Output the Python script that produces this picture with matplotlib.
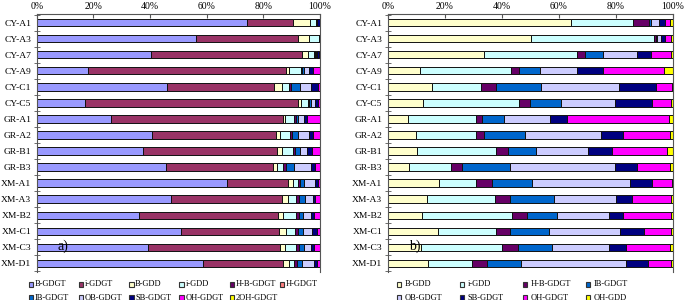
import numpy as np
import matplotlib
matplotlib.use('Agg')
import matplotlib.pyplot as plt
from matplotlib.patches import Rectangle

plt.rcParams['font.family'] = ['Liberation Serif', 'DejaVu Serif']

samples = ['CY-A1', 'CY-A3', 'CY-A7', 'CY-A9', 'CY-C1', 'CY-C5', 'GR-A1', 'GR-A2',
           'GR-B1', 'GR-B3', 'XM-A1', 'XM-A3', 'XM-B2', 'XM-C1', 'XM-C3', 'XM-D1']

# panel a) - all lipids (%)
names_a = ['B-GDGT', 'i-GDGT', 'B-GDD', 'i-GDD', 'H-B-GDGT', 'H-GDGT',
           'IB-GDGT', 'OB-GDGT', 'SB-GDGT', 'OH-GDGT', '2OH-GDGT']
b_gdgt_a = [74.2, 56.2, 40.6, 18.2, 46.1, 17.2, 26.2, 40.8, 37.4, 45.6, 67.1, 47.2, 36.2, 50.9, 39.3, 58.6]
i_gdgt_a = [16.2, 36.2, 53.5, 69.7, 37.8, 75.2, 60.5, 43.7, 47.3, 37.8, 21.5, 39.4, 48.9, 34.7, 46.6, 28.6]
b_gdd_a = [6.1, 3.7, 2.0, 1.3, 2.6, 0.9, 0.9, 1.5, 1.8, 1.3, 2.0, 1.9, 1.8, 2.4, 1.8, 1.8]
i_gdd_a = [2.1, 3.4, 1.9, 4.1, 2.5, 2.6, 3.3, 3.3, 3.9, 2.4, 1.5, 3.1, 4.7, 3.2, 3.9, 1.9]
hb_gdgt_a = [0.5, 0.2, 0.5, 0.5, 0.8, 0.3, 0.4, 0.8, 0.9, 0.9, 0.8, 1.0, 1.0, 0.9, 1.0, 0.9]
h_gdgt_a = [0.0] * 16
ib_gdgt_a = [0.0, 0.0, 0.3, 0.7, 3.0, 0.5, 1.0, 2.0, 1.6, 2.8, 1.5, 1.9, 1.5, 1.8, 1.8, 1.8]
ob_gdgt_a = [0.0, 0.0, 0.3, 1.7, 4.1, 1.4, 2.0, 4.1, 2.6, 5.9, 3.8, 2.9, 2.6, 3.4, 2.5, 4.5]
sb_gdgt_a = [0.9, 0.3, 1.0, 1.2, 2.4, 1.2, 0.9, 1.4, 1.5, 1.5, 1.2, 0.9, 1.1, 1.5, 1.1, 1.1]
oh_gdgt_a = [0.0, 0.0, 0.2, 2.6, 0.7, 0.7, 4.7, 2.4, 3.0, 1.8, 0.6, 1.6, 2.2, 1.2, 2.1, 0.9]
oh2_gdgt_a = [0.0] * 16

# panel b) - minor lipids (%)
names_b = ['B-GDD', 'i-GDD', 'H-B-GDGT', 'IB-GDGT', 'OB-GDGT', 'SB-GDGT', 'OH-GDGT', 'OH-GDD']
b_gdd_b = [64.1, 50.2, 33.8, 11.4, 15.4, 12.3, 7.0, 9.8, 10.4, 7.6, 17.9, 13.7, 12.1, 17.5, 11.8, 14.0]
i_gdd_b = [21.9, 43.1, 32.5, 31.6, 17.4, 33.8, 23.9, 21.1, 27.4, 14.6, 13.2, 23.9, 31.5, 20.4, 28.4, 15.6]
hb_gdgt_b = [5.6, 1.0, 2.8, 3.0, 5.3, 4.0, 2.0, 3.0, 4.4, 4.0, 5.4, 5.3, 5.4, 4.9, 5.4, 5.4]
ib_gdgt_b = [0.8, 0.2, 6.4, 7.5, 15.9, 10.6, 7.9, 14.4, 9.7, 16.7, 14.0, 15.6, 10.2, 13.7, 12.1, 11.9]
ob_gdgt_b = [2.7, 1.5, 11.9, 12.8, 27.2, 19.0, 16.1, 26.4, 18.4, 36.9, 34.4, 21.5, 18.2, 24.9, 19.7, 36.8]
sb_gdgt_b = [2.0, 1.2, 5.0, 9.1, 13.2, 13.0, 6.1, 7.9, 8.2, 7.5, 7.9, 5.8, 4.9, 8.5, 6.1, 7.6]
oh_gdgt_b = [2.0, 2.1, 6.8, 21.4, 5.4, 6.8, 35.6, 16.2, 19.5, 11.9, 6.9, 13.7, 16.9, 9.6, 15.6, 8.2]
oh_gdd_b = [0.9, 0.8, 0.8, 3.1, 0.4, 0.6, 1.4, 1.2, 2.0, 0.9, 0.4, 0.6, 0.8, 0.6, 0.9, 0.6]

colors = {'B-GDGT': '#9999FF', 'i-GDGT': '#993366', 'B-GDD': '#FFFFCC', 'i-GDD': '#CCFFFF',
          'H-B-GDGT': '#660066', 'H-GDGT': '#FF8080', 'IB-GDGT': '#0066CC', 'OB-GDGT': '#CCCCFF',
          'SB-GDGT': '#000080', 'OH-GDGT': '#FF00FF', '2OH-GDGT': '#FFFF00', 'OH-GDD': '#FFFF00'}

series_a = [b_gdgt_a, i_gdgt_a, b_gdd_a, i_gdd_a, hb_gdgt_a, h_gdgt_a,
            ib_gdgt_a, ob_gdgt_a, sb_gdgt_a, oh_gdgt_a, oh2_gdgt_a]
series_b = [b_gdd_b, i_gdd_b, hb_gdgt_b, ib_gdgt_b, ob_gdgt_b, sb_gdgt_b, oh_gdgt_b, oh_gdd_b]


def stacked(ax, names, series, tag):
    vals = np.array(series, dtype=float)
    vals = vals / vals.sum(axis=0) * 100  # 100% stacked like excel
    y = np.arange(len(samples))
    left = np.zeros(len(samples))
    for name, v in zip(names, vals):
        ax.barh(y, v, left=left, height=0.44, color=colors[name],
                edgecolor='#111111', linewidth=0.7)
        left += v
    ax.set_xlim(0, 100)
    ax.set_ylim(len(samples) - 0.44, -0.56)
    ax.set_yticks(y)
    ax.set_yticklabels(samples, fontsize=6.8)
    ax.set_yticks(np.arange(len(samples) + 1) - 0.5, minor=True)
    ax.tick_params(axis='y', which='major', length=0, pad=4)
    ax.tick_params(axis='y', which='minor', length=4, direction='inout', color='#555555')
    ax.set_xticks(np.arange(0, 101, 20))
    ax.set_xticklabels(['%d%%' % t for t in range(0, 101, 20)], fontsize=7)
    ax.xaxis.tick_top()
    ax.tick_params(axis='x', direction='in', length=3, pad=2, color='#555555')
    for s in ['left', 'top', 'right']:
        ax.spines[s].set_color('#555555')
        ax.spines[s].set_linewidth(0.8)
    ax.spines['bottom'].set_visible(False)
    ax.text(0.075, 0.085, tag, transform=ax.transAxes, fontsize=10)


fig = plt.figure(figsize=(6.85, 3.0), dpi=100)
W, H = 685.0, 300.0
ax1 = fig.add_axes([36.7 / W, 1 - 272 / H, 283.3 / W, 258 / H])
ax2 = fig.add_axes([387.7 / W, 1 - 272 / H, 285.3 / W, 258 / H])
stacked(ax1, names_a, series_a, 'a)')
stacked(ax2, names_b, series_b, 'b)')


def legend(names, x0, dx, ncol, text_gap):
    for i, name in enumerate(names):
        r, c = divmod(i, ncol)
        x = x0 + c * dx
        y = 284.5 + r * 13
        fig.add_artist(Rectangle((x / W, 1 - (y + 2.2) / H), 4.4 / W, 4.4 / H,
                                 transform=fig.transFigure, facecolor=colors[name],
                                 edgecolor='#333333', linewidth=0.8))
        fig.text((x + 4.4 + text_gap) / W, 1 - y / H, name, fontsize=6, va='center')


legend(names_a, 28.5, 50.3, 6, 1.5)
legend(names_b, 396.5, 63.0, 4, 3.5)

fig.savefig('out.png', dpi=100)
